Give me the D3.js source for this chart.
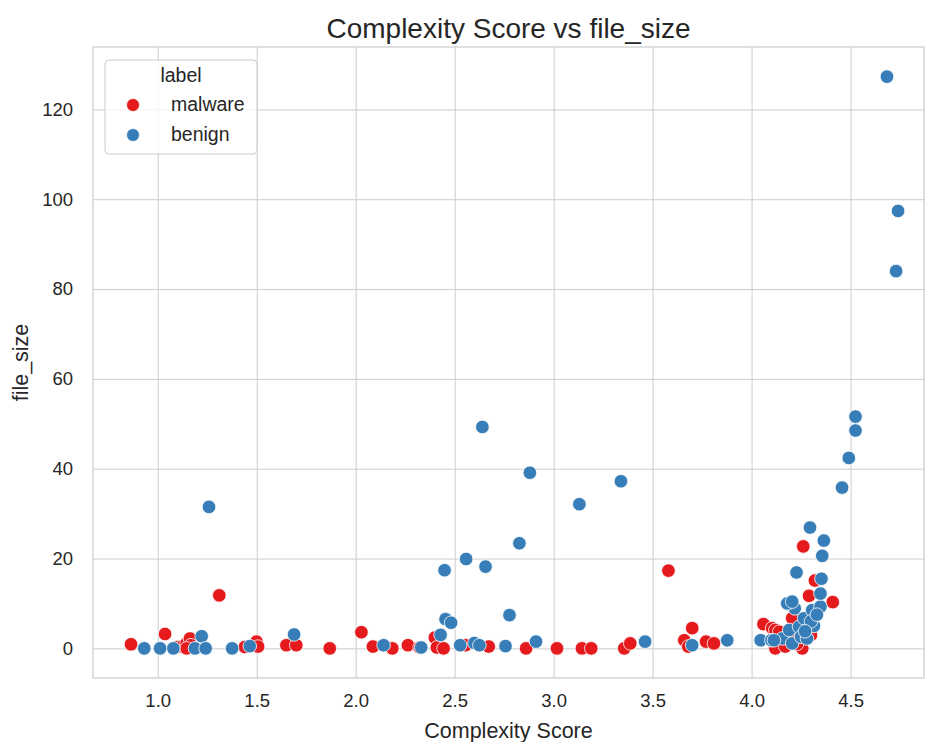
<!DOCTYPE html>
<html>
<head>
    <meta charset="utf-8">
    <style>
        body {
            margin: 0;
            background: white;
            font-family: 'Liberation Sans', Arial, sans-serif;
        }
        svg {
            display: block;
        }
        .grid line {
            stroke: #cccccc;
            stroke-width: 1;
        }
        .grid text {
            fill: #262626;
            font-size: 18.5px;
        }
    </style>
</head>
<body>
    <svg width="927" height="742"></svg>

<script src="https://d3js.org/d3.v7.min.js"></script>
<script>
    // values
    let malwareScore = [0.865, 1.037, 1.10, 1.124, 1.146, 1.163, 1.168, 1.146, 1.311, 1.44, 1.499, 1.507,
        1.65, 1.70, 1.869, 2.029, 2.087, 2.185, 2.264, 2.323, 2.40, 2.41, 2.444, 2.555, 2.672, 2.861,
        3.017, 3.143, 3.19, 3.357, 3.387, 3.58, 3.66, 3.68, 3.70, 3.77, 3.81, 4.06, 4.104, 4.12, 4.14,
        4.12, 4.17, 4.256, 4.205, 4.261, 4.29, 4.32, 4.41, 4.20, 4.23, 4.30]
    let malwareSize = [0.9, 3.2, 0.3, 0.4, 1.1, 2.2, 0.7, 0.0, 11.8, 0.3, 1.5, 0.4,
        0.7, 0.7, 0.0, 3.6, 0.4, 0.0, 0.7, 0.2, 2.4, 0.2, 0.0, 0.7, 0.4, 0.0,
        0.0, 0.0, 0.0, 0.0, 1.1, 17.3, 1.8, 0.4, 4.5, 1.5, 1.1, 5.4, 4.5, 4.1, 3.7,
        0.0, 0.4, 0.0, 6.7, 22.7, 11.7, 15.1, 10.3, 2.0, 1.0, 3.0]

    let benignScore = [0.932, 1.012, 1.079, 1.188, 1.222, 1.242, 1.259, 1.376, 1.465, 1.689, 2.141, 2.331,
        2.429, 2.449, 2.454, 2.482, 2.528, 2.558, 2.60, 2.625, 2.64, 2.656, 2.757, 2.777, 2.827, 2.88,
        2.911, 3.13, 3.34, 3.462, 3.70, 3.877, 4.046, 4.10, 4.155, 4.113, 4.19, 4.205, 4.24, 4.25, 4.28,
        4.265, 4.315, 4.306, 4.348, 4.218, 4.18, 4.205, 4.348, 4.353, 4.227, 4.357, 4.365, 4.295, 4.457,
        4.491, 4.525, 4.525, 4.684, 4.73, 4.74, 4.30, 4.33, 4.27]
    let benignSize = [0.0, 0.0, 0.0, 0.0, 2.7, 0.0, 31.5, 0.0, 0.5, 3.1, 0.7, 0.2,
        3.0, 17.4, 6.5, 5.7, 0.7, 19.9, 1.2, 0.7, 49.3, 18.2, 0.5, 7.4, 23.4, 39.1,
        1.5, 32.1, 37.2, 1.5, 0.7, 1.8, 1.8, 1.8, 2.2, 1.8, 4.1, 1.1, 4.8, 2.6, 2.2,
        6.7, 5.0, 8.5, 9.3, 8.9, 10.0, 10.4, 12.2, 15.5, 16.9, 20.6, 24.0, 26.9, 35.8,
        42.4, 48.5, 51.6, 127.3, 84.0, 97.4, 6.0, 7.5, 3.8]

    let xTicks = [1.0, 1.5, 2.0, 2.5, 3.0, 3.5, 4.0, 4.5]
    let yTicks = [0, 20, 40, 60, 80, 100, 120]
    let labels = ["malware", "benign"]
    let colors = ["#e41a1c", "#377eb8"]

    let plotLeft = 93, plotRight = 924, plotTop = 47, plotBottom = 678

    let svg = d3.select("svg")

    let x = d3.scaleLinear().domain([0.673, 4.871]).range([plotLeft, plotRight])
    let y = d3.scaleLinear().domain([-6.6, 133.9]).range([plotBottom, plotTop])

    // grid + tick labels
    let xAxis = svg.append("g")
        .attr("class", "grid")
        .attr("transform", "translate(0," + plotBottom + ")")
        .call(d3.axisBottom(x).tickValues(xTicks).tickFormat(d3.format(".1f"))
            .tickSize(-(plotBottom - plotTop)).tickPadding(16))
    xAxis.select(".domain").remove()

    let yAxis = svg.append("g")
        .attr("class", "grid")
        .attr("transform", "translate(" + plotLeft + ",0)")
        .call(d3.axisLeft(y).tickValues(yTicks).tickSize(-(plotRight - plotLeft)).tickPadding(20))
    yAxis.select(".domain").remove()
    svg.selectAll(".grid text").attr("font-family", "'Liberation Sans', Arial, sans-serif")

    // frame
    svg.append("rect")
        .attr("x", plotLeft)
        .attr("y", plotTop)
        .attr("width", plotRight - plotLeft)
        .attr("height", plotBottom - plotTop)
        .style("fill", "none")
        .style("stroke", "#cccccc")
        .style("stroke-width", 1.25)

    // points
    let malware = malwareScore.map((d, i) => [d, malwareSize[i]])
    let benign = benignScore.map((d, i) => [d, benignSize[i]])

    svg.append("g").selectAll("circle")
        .data(malware)
        .join("circle")
        .attr("cx", d => x(d[0]))
        .attr("cy", d => y(d[1]))
        .attr("r", 6.8)
        .style("fill", colors[0])
        .style("stroke", "white")
        .style("stroke-width", 0.8)

    svg.append("g").selectAll("circle")
        .data(benign)
        .join("circle")
        .attr("cx", d => x(d[0]))
        .attr("cy", d => y(d[1]))
        .attr("r", 6.8)
        .style("fill", colors[1])
        .style("stroke", "white")
        .style("stroke-width", 0.8)

    // titles
    svg.append("text")
        .text("Complexity Score vs file_size")
        .attr("x", (plotLeft + plotRight) / 2)
        .attr("y", 38)
        .attr("text-anchor", "middle")
        .style("font-size", "28px")
        .style("fill", "#262626")

    svg.append("text")
        .text("Complexity Score")
        .attr("x", (plotLeft + plotRight) / 2)
        .attr("y", 738)
        .attr("text-anchor", "middle")
        .style("font-size", "21.5px")
        .style("fill", "#262626")

    svg.append("text")
        .text("file_size")
        .attr("transform", "translate(28," + (plotTop + plotBottom) / 2 + ") rotate(-90)")
        .attr("text-anchor", "middle")
        .style("font-size", "21.5px")
        .style("fill", "#262626")

    // legend
    let legend = svg.append("g")
    legend.append("rect")
        .attr("x", 105)
        .attr("y", 60)
        .attr("width", 152)
        .attr("height", 94)
        .attr("rx", 4)
        .style("fill", "white")
        .style("fill-opacity", 0.8)
        .style("stroke", "#cccccc")
        .style("stroke-width", 1)

    legend.append("text")
        .text("label")
        .attr("x", 181)
        .attr("y", 82)
        .attr("text-anchor", "middle")
        .style("font-size", "19.5px")
        .style("fill", "#262626")

    labels.forEach(function (lab, i) {
        legend.append("circle")
            .attr("cx", 133)
            .attr("cy", 105 + i * 30)
            .attr("r", 6.5)
            .style("fill", colors[i])
            .style("stroke", "white")
            .style("stroke-width", 0.8)
        legend.append("text")
            .text(lab)
            .attr("x", 171)
            .attr("y", 111 + i * 30)
            .style("font-size", "19.5px")
            .style("fill", "#262626")
    })
</script>
</body>
</html>
